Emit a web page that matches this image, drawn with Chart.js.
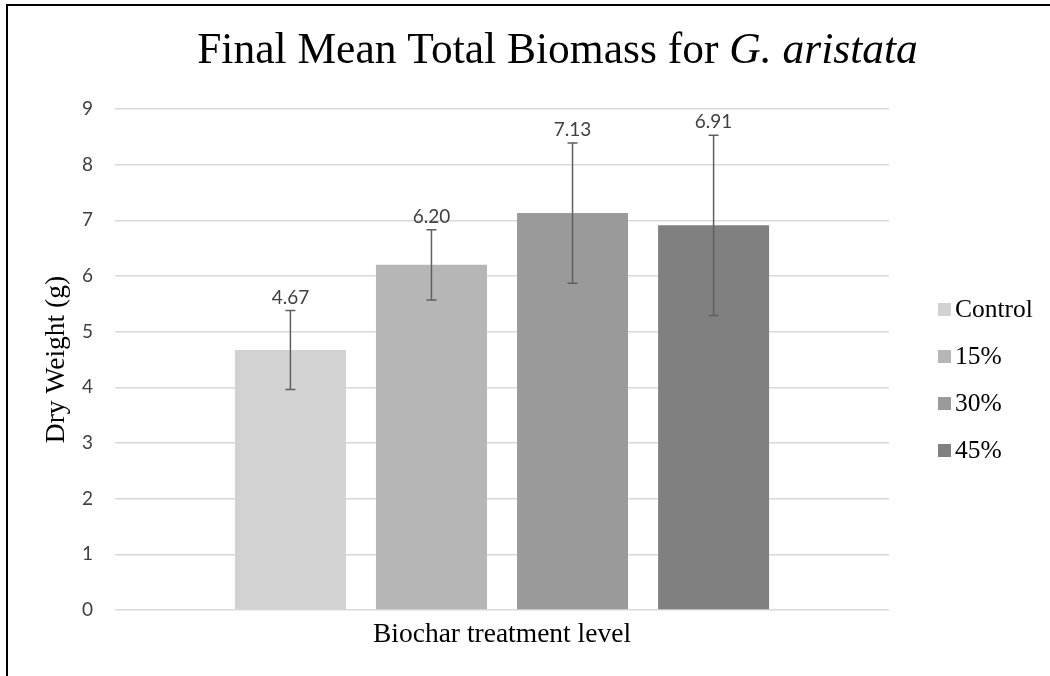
<!DOCTYPE html>
<html>
<head>
<meta charset="utf-8">
<script src="https://cdn.jsdelivr.net/npm/chart.js@4"></script>
<style>
  html, body { margin: 0; padding: 0; background: #fff; overflow: hidden; }
  #wrap { position: relative; width: 1050px; height: 676px; }
  #frame {
    position: absolute; left: 6px; top: 4px; width: 1100px; height: 700px;
    border-left: 2px solid #000; border-top: 2px solid #000; pointer-events: none;
  }
</style>
</head>
<body>
<div id="wrap">
  <canvas id="biomassChart" width="1050" height="676"></canvas>
  <div id="frame"></div>
</div>
<script>
const categories = [''];
const treatments = ['Control', '15%', '30%', '45%'];
const meanBiomass = [4.67, 6.20, 7.13, 6.91];
const errorBiomass = [0.71, 0.63, 1.26, 1.62];
const barColors = ['#d2d2d2', '#b6b6b6', '#9a9a9a', '#808080'];
const yTicks = [0, 1, 2, 3, 4, 5, 6, 7, 8, 9];

const serif = '"Liberation Serif", "Times New Roman", serif';
const sans = 'Lato, "Open Sans", sans-serif';

// title has an italic species name, so it is drawn by hand
const titlePlugin = {
  id: 'mixedTitle',
  afterDraw(chart) {
    const ctx = chart.ctx;
    const parts = [
      { text: 'Final Mean Total Biomass for ', font: '43.5px ' + serif },
      { text: 'G. aristata', font: 'italic 43.5px ' + serif },
    ];
    ctx.save();
    let total = 0;
    parts.forEach((p) => { ctx.font = p.font; p.w = ctx.measureText(p.text).width; total += p.w; });
    let x = 557.5 - total / 2;
    ctx.fillStyle = '#000';
    ctx.textBaseline = 'alphabetic';
    parts.forEach((p) => { ctx.font = p.font; ctx.fillText(p.text, x, 63); x += p.w; });
    ctx.restore();
  },
};

const errorBarPlugin = {
  id: 'errorBars',
  afterDatasetsDraw(chart) {
    const ctx = chart.ctx;
    const y = chart.scales.y;
    ctx.save();
    chart.data.datasets.forEach((ds, i) => {
      const bar = chart.getDatasetMeta(i).data[0];
      const top = y.getPixelForValue(meanBiomass[i] + errorBiomass[i]);
      const bottom = y.getPixelForValue(meanBiomass[i] - errorBiomass[i]);
      ctx.strokeStyle = '#5f5f5f';
      ctx.lineWidth = 1.5;
      ctx.beginPath();
      ctx.moveTo(bar.x, top); ctx.lineTo(bar.x, bottom);
      ctx.moveTo(bar.x - 5, top); ctx.lineTo(bar.x + 5, top);
      ctx.moveTo(bar.x - 5, bottom); ctx.lineTo(bar.x + 5, bottom);
      ctx.stroke();
      ctx.fillStyle = '#404040';
      ctx.font = '19px ' + sans;
      ctx.textAlign = 'center';
      ctx.textBaseline = 'alphabetic';
      ctx.fillText(meanBiomass[i].toFixed(2), bar.x, top - 7);
    });
    ctx.restore();
  },
};

const legendPlugin = {
  id: 'sideLegend',
  afterDraw(chart) {
    const ctx = chart.ctx;
    ctx.save();
    chart.data.datasets.forEach((ds, i) => {
      const cy = 309 + i * 47;
      ctx.fillStyle = ds.backgroundColor;
      ctx.fillRect(938, cy - 6, 13, 13);
      ctx.fillStyle = '#000';
      ctx.font = '25.5px ' + serif;
      ctx.textBaseline = 'middle';
      ctx.fillText(ds.label, 955, cy + 1);
    });
    ctx.restore();
  },
};

new Chart(document.getElementById('biomassChart'), {
  type: 'bar',
  data: {
    labels: categories,
    datasets: treatments.map((name, i) => ({
      label: name,
      data: [meanBiomass[i]],
      backgroundColor: barColors[i],
      borderWidth: 0,
      categoryPercentage: 0.729,
      barPercentage: 0.787,
    })),
  },
  options: {
    responsive: false,
    animation: false,
    layout: { padding: { top: 109, right: 161, bottom: 0, left: 8 } },
    plugins: {
      legend: { display: false },
      tooltip: { enabled: false },
    },
    scales: {
      y: {
        min: 0,
        max: 9,
        afterBuildTicks(scale) { scale.ticks = yTicks.map((v) => ({ value: v })); },
        afterFit(scale) { scale.width = 107; },
        ticks: { color: '#404040', font: { family: sans, size: 19 }, padding: 22 },
        grid: { color: '#d9d9d9', lineWidth: 1.5, drawTicks: false },
        border: { display: false },
        title: {
          display: true,
          text: 'Dry Weight (g)',
          color: '#000',
          font: { family: serif, size: 27.5 },
          padding: { top: 32, bottom: 0 },
        },
      },
      x: {
        grid: { display: false, drawTicks: false },
        border: { display: false },
        ticks: { display: false },
        title: {
          display: true,
          text: 'Biochar treatment level',
          color: '#000',
          font: { family: serif, size: 27.5 },
          padding: { top: 8, bottom: 25 },
        },
      },
    },
  },
  plugins: [titlePlugin, errorBarPlugin, legendPlugin],
});
</script>
</body>
</html>
